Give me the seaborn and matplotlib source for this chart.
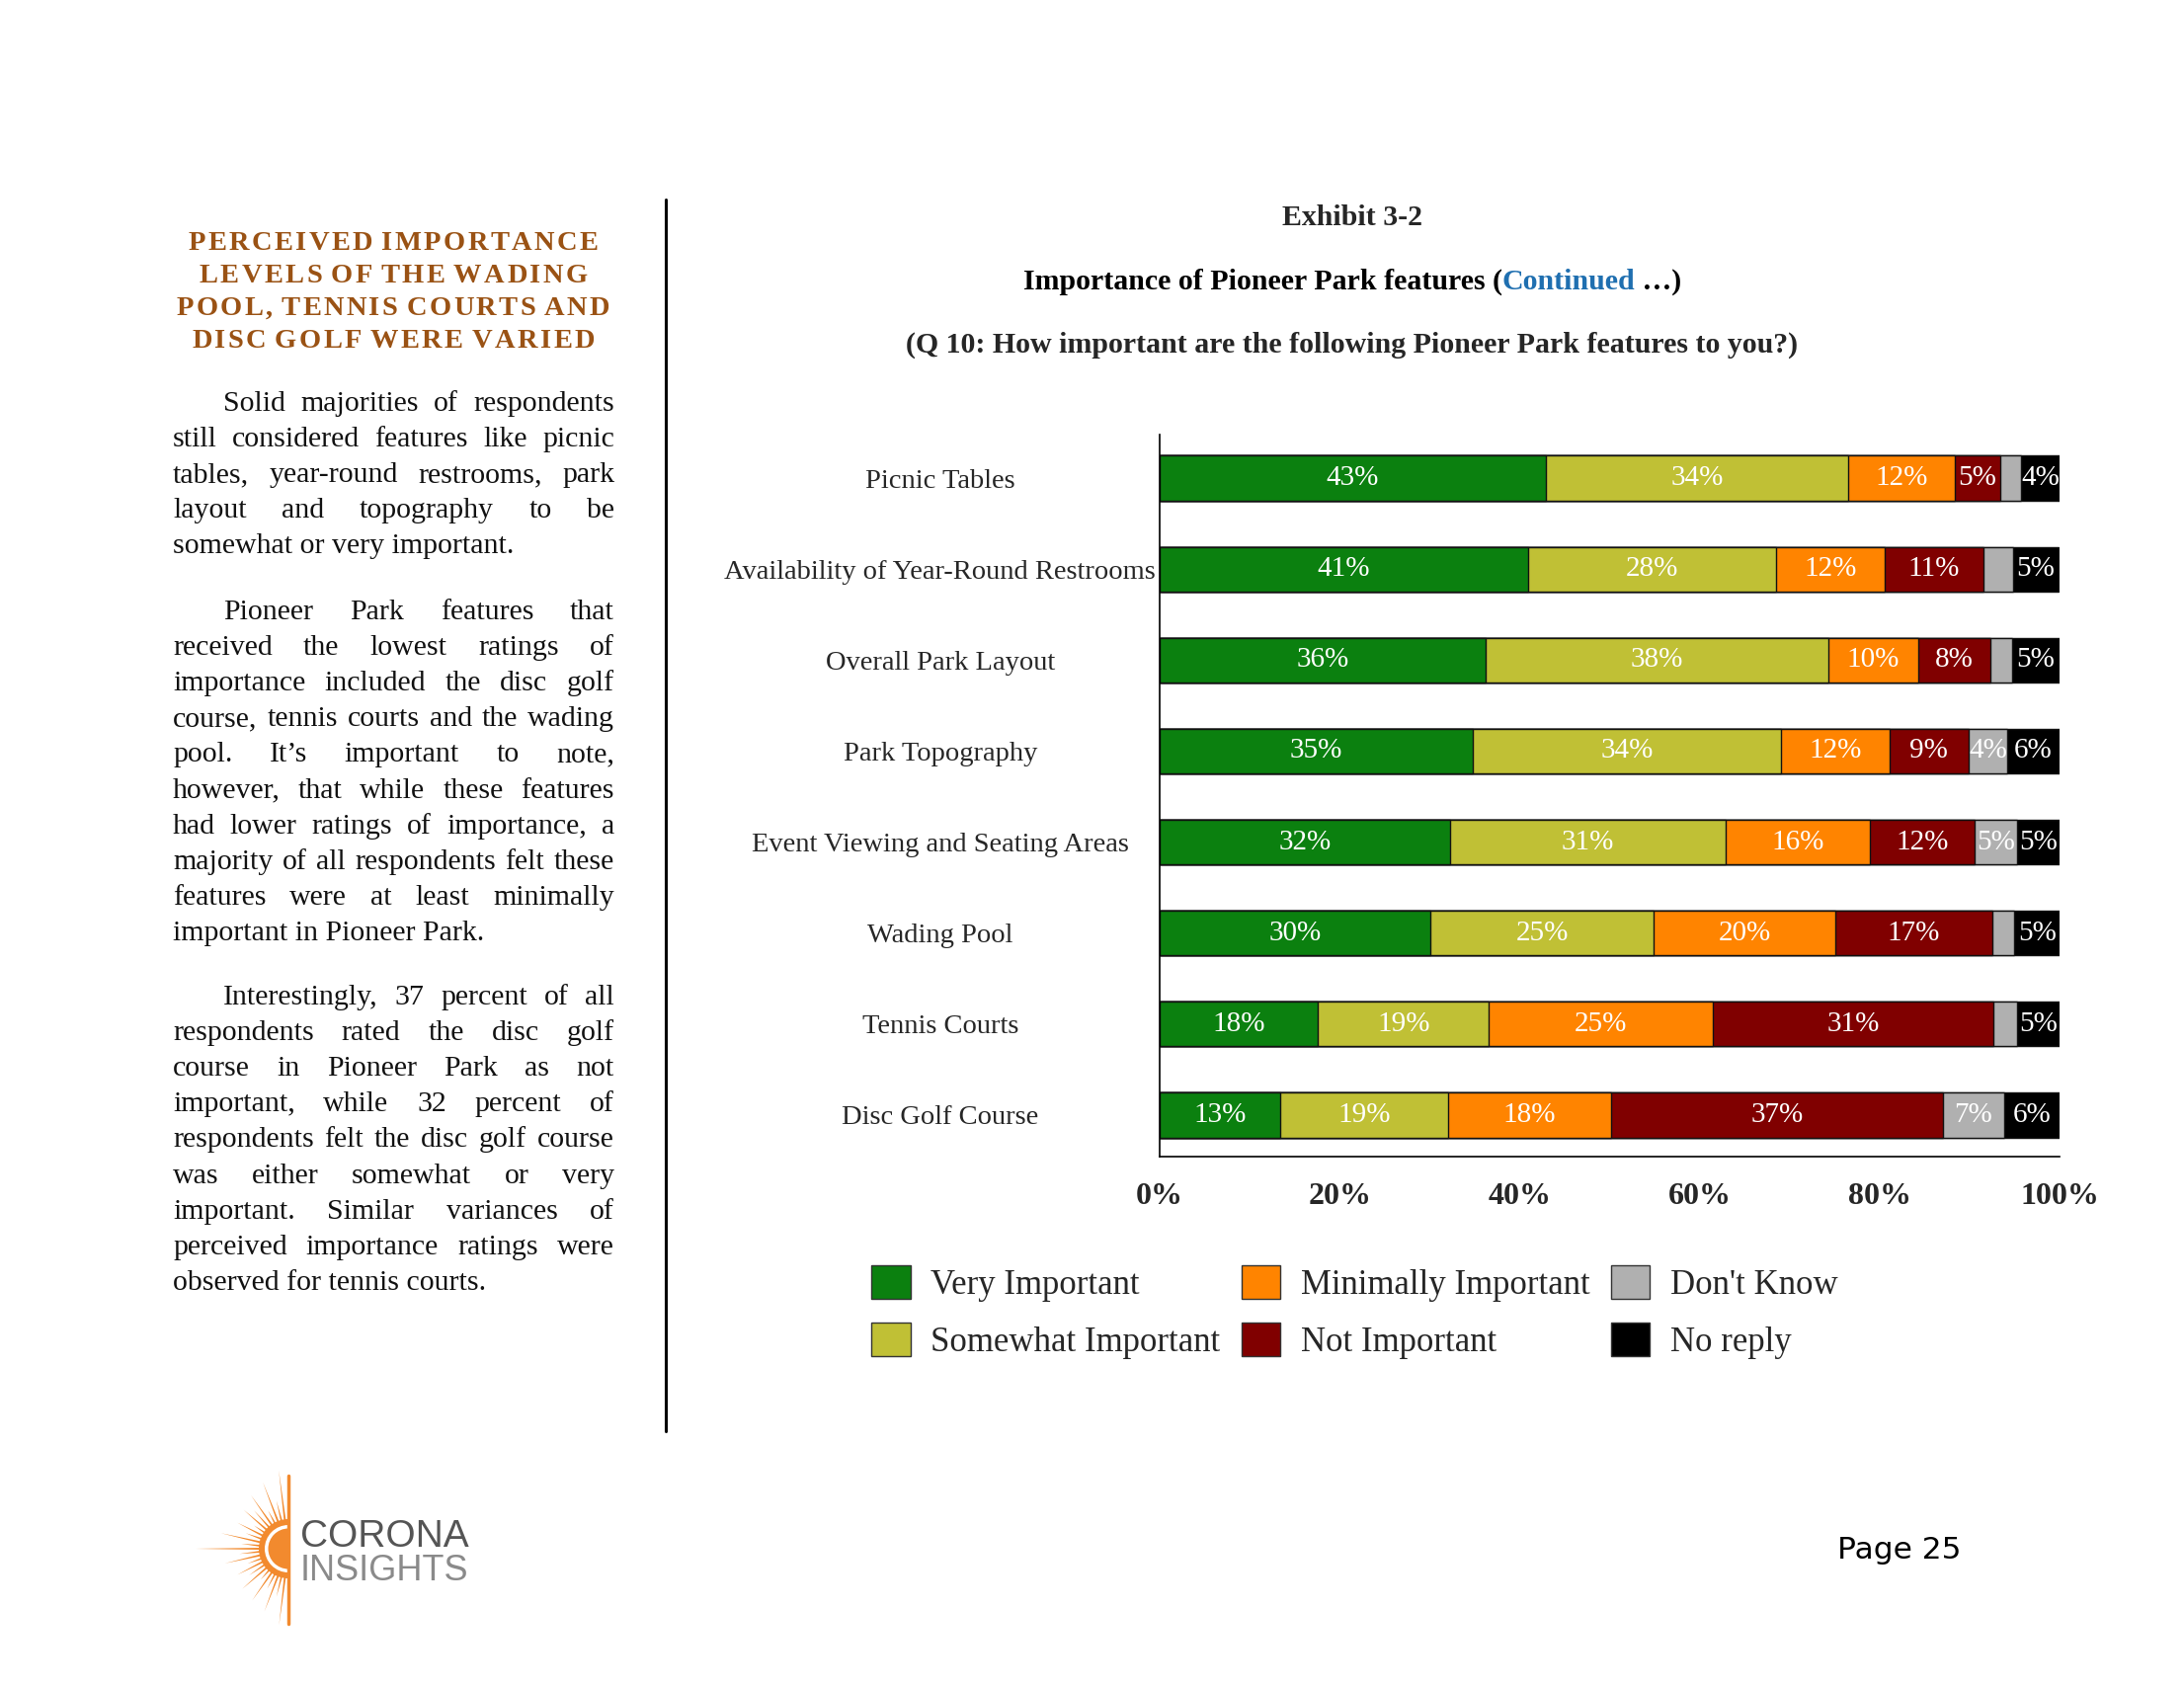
import numpy as np
import pandas as pd
import matplotlib
matplotlib.use("Agg")
import matplotlib.pyplot as plt
import seaborn as sns
from matplotlib.patches import Rectangle, Wedge, Polygon
from matplotlib.lines import Line2D

# ---------------- data ----------------
features = ["Picnic Tables", "Availability of Year-Round Restrooms", "Overall Park Layout",
            "Park Topography", "Event Viewing and Seating Areas", "Wading Pool",
            "Tennis Courts", "Disc Golf Course"]
levels = ["Very Important", "Somewhat Important", "Minimally Important",
          "Not Important", "Don't Know", "No reply"]
very_important = [42.9, 40.9, 36.2, 34.8, 32.3, 30.1, 17.6, 13.4]
somewhat_important = [33.6, 27.6, 38.1, 34.2, 30.6, 24.8, 19.0, 18.6]
minimally_important = [11.9, 12.1, 10.0, 12.1, 16.0, 20.2, 24.9, 18.2]
not_important = [5.0, 10.9, 8.0, 8.8, 11.7, 17.4, 31.1, 36.8]
dont_know = [2.3, 3.3, 2.4, 4.3, 4.7, 2.5, 2.7, 6.9]
no_reply = [4.3, 5.1, 5.3, 5.8, 4.7, 5.0, 4.7, 6.1]
level_colors = ["#0b800f", "#c0c035", "#ff8400", "#800000", "#b0b0b0", "#000000"]
x_ticks = [0, 20, 40, 60, 80, 100]
x_tick_labels = ["0%", "20%", "40%", "60%", "80%", "100%"]

series = [very_important, somewhat_important, minimally_important,
          not_important, dont_know, no_reply]
rows = []
for fi, f in enumerate(features):
    cum = 0.0
    for li, lev in enumerate(levels):
        v = series[li][fi]
        cum += v
        rows.append({"feature": f, "level": lev, "value": v, "cum": cum, "mid": cum - v / 2})
df = pd.DataFrame(rows)

# ---------------- figure ----------------
sns.set_style("white")
plt.rcParams["font.family"] = ["Liberation Serif", "DejaVu Serif"]
W, H = 2211, 1709
fig = plt.figure(figsize=(W / 100, H / 100), dpi=100)
fig.patch.set_facecolor("white")

# overlay axes in pixel coordinates (y downward)
ov = fig.add_axes([0, 0, 1, 1])
ov.set_xlim(0, W)
ov.set_ylim(H, 0)
ov.set_axis_off()

# main chart axes
L, R, T, B = 1174, 2085, 440, 1171
ax = fig.add_axes([L / W, 1 - B / H, (R - L) / W, (B - T) / H])

for lev, col in reversed(list(zip(levels, level_colors))):
    sub = df[df["level"] == lev]
    sns.barplot(data=sub, x="cum", y="feature", order=features, color=col,
                saturation=1, orient="h", width=0.49, edgecolor="#111111",
                linewidth=1.0, errorbar=None, ax=ax)

for _, r in df.iterrows():
    if r["value"] >= 3.5:
        ax.text(r["mid"], features.index(r["feature"]), f"{int(round(r['value']))}%",
                ha="center", va="center", color="white", fontsize=21)

ax.set_xlim(0, 100)
ax.set_ylim(len(features) - 0.544, -0.478)
ax.set_xlabel("")
ax.set_ylabel("")
ax.set_xticks(x_ticks)
ax.set_xticklabels(x_tick_labels, fontsize=23, fontweight="bold")
ax.tick_params(axis="x", direction="inout", length=14, width=1, color="black", pad=11.5)
ax.tick_params(axis="y", length=0, pad=160, labelsize=20.5)
for lab in ax.get_yticklabels():
    lab.set_horizontalalignment("center")
for s in ["top", "right"]:
    ax.spines[s].set_visible(False)
for s in ["left", "bottom"]:
    ax.spines[s].set_color("black")
    ax.spines[s].set_linewidth(1.2)
ax.set_facecolor("none")

# legend
handles = [Rectangle((0, 0), 1, 1, facecolor=c, edgecolor="#333333", linewidth=1) for c in level_colors]
fig.legend(handles, levels, ncol=3, loc="upper left",
           bbox_to_anchor=(882 / W, 1 - 1281 / H), frameon=False, fontsize=25,
           handlelength=1.14, handleheight=1.14, handletextpad=0.6,
           columnspacing=0.6, labelspacing=0.6, borderpad=0, borderaxespad=0)

renderer = fig.canvas.get_renderer()


def tw(s, **kw):
    t = ov.text(0, 0, s, **kw)
    w = t.get_window_extent(renderer).width
    t.remove()
    return w


# titles
TX = 1369
ov.text(TX, 220, "Exhibit 3-2", ha="center", va="center", fontsize=21.5, fontweight="bold")
parts = [("Importance of Pioneer Park features (", "black"), ("Continued", "#1f6fb0"), (" \u2026)", "black")]
kw = dict(fontsize=21.5, fontweight="bold")
widths = [tw(p, **kw) for p, _ in parts]
x0 = TX - sum(widths) / 2
for (p, c), w in zip(parts, widths):
    ov.text(x0, 293, p, ha="left", va="baseline", color=c, **kw)
    x0 += w
ov.text(TX, 349, "(Q 10: How important are the following Pioneer Park features to you?)",
        ha="center", va="center", fontsize=21.5, fontweight="bold")

# separator line
ov.add_line(Line2D([674, 674], [202, 1449], color="black", linewidth=2.2))

# heading with letter spacing
head_lines = ["PERCEIVED IMPORTANCE", "LEVELS OF THE WADING",
              "POOL, TENNIS COURTS AND", "DISC GOLF WERE VARIED"]
hkw = dict(fontsize=20.5, fontweight="bold", color="#9a5214")
track = 2.4
for i, line in enumerate(head_lines):
    cw = [tw(ch, **hkw) if ch != " " else tw("A A", **hkw) - tw("AA", **hkw) for ch in line]
    total = sum(cw) + track * (len(line) - 1)
    x = 398 - total / 2
    y = 253 + i * 33
    for ch, w in zip(line, cw):
        if ch != " ":
            ov.text(x, y, ch, ha="left", va="baseline", **hkw)
        x += w + track

# justified body text
bkw = dict(fontsize=21.5, color="#111111")
XL, XR, INDENT = 175, 622, 226
LS = 36.1
paragraphs = [
    (416, ["Solid majorities of respondents",
           "still considered features like picnic",
           "tables, year-round restrooms, park",
           "layout and topography to be",
           "somewhat or very important."]),
    (627, ["Pioneer Park features that",
           "received the lowest ratings of",
           "importance included the disc golf",
           "course, tennis courts and the wading",
           "pool. It\u2019s important to note,",
           "however, that while these features",
           "had lower ratings of importance, a",
           "majority of all respondents felt these",
           "features were at least minimally",
           "important in Pioneer Park."]),
    (1017, ["Interestingly, 37 percent of all",
            "respondents rated the disc golf",
            "course in Pioneer Park as not",
            "important, while 32 percent of",
            "respondents felt the disc golf course",
            "was either somewhat or very",
            "important. Similar variances of",
            "perceived importance ratings were",
            "observed for tennis courts."]),
]
for y0, lines in paragraphs:
    for k, line in enumerate(lines):
        y = y0 + k * LS
        xs = INDENT if k == 0 else XL
        if k == len(lines) - 1:
            ov.text(xs, y, line, ha="left", va="baseline", **bkw)
            continue
        words = line.split(" ")
        ws = [tw(w, **bkw) for w in words]
        gap = (XR - xs - sum(ws)) / (len(words) - 1)
        x = xs
        for w, wd in zip(words, ws):
            ov.text(x, y, w, ha="left", va="baseline", **bkw)
            x += wd + gap

# page number
ov.text(1860, 1569, "Page 25", ha="left", va="center", fontsize=22.5,
        family="DejaVu Sans", color="black")

# logo
cx, cy = 292, 1568
orange = "#f28a2e"
ray_angles = [97, 104, 111, 118, 125, 132, 139, 146, 153, 160, 167, 174, 180, 186, 193, 200,
              207, 214, 221, 228, 235, 242, 249, 256, 263]
ray_lengths = [80, 50, 72, 44, 66, 52, 60, 42, 58, 46, 70, 48, 94, 50, 66, 44, 58, 48,
               62, 42, 64, 46, 68, 50, 78]
for a, ln in zip(ray_angles, ray_lengths):
    a0 = np.deg2rad(a)
    da = np.deg2rad(2.2)
    r0 = 27
    pts = [(cx + r0 * np.cos(a0 - da), cy - r0 * np.sin(a0 - da)),
           (cx + ln * np.cos(a0), cy - ln * np.sin(a0)),
           (cx + r0 * np.cos(a0 + da), cy - r0 * np.sin(a0 + da))]
    ov.add_patch(Polygon(pts, closed=True, facecolor=orange, edgecolor="none"))
ov.add_patch(Wedge((cx, cy), 30, 90, 270, facecolor=orange, edgecolor="none"))
ov.add_patch(Wedge((cx, cy), 24, 90, 270, width=3.5, facecolor="white", edgecolor="none"))
ov.add_line(Line2D([cx, cx], [1494, 1644], color=orange, linewidth=2.5))
ov.text(304, 1556, "CORONA", ha="left", va="center", fontsize=28,
        family="Liberation Sans", color="#555555")
ov.text(304, 1590, "INSIGHTS", ha="left", va="center", fontsize=26,
        family="Liberation Sans", color="#8a8a8a")

fig.savefig("out.png", dpi=100, facecolor="white")
